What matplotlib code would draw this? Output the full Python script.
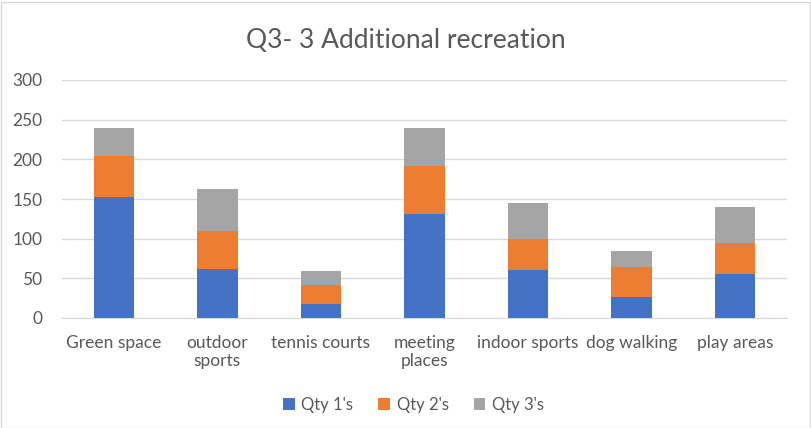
import numpy as np
import matplotlib.pyplot as plt
from matplotlib.patches import Rectangle

categories = ['Green space', 'outdoor\nsports', 'tennis courts', 'meeting\nplaces',
              'indoor sports', 'dog walking', 'play areas']
qty1 = [152, 62, 18, 131, 60, 27, 56]
qty2 = [52, 48, 23, 61, 40, 37, 39]
qty3 = [36, 52, 18, 48, 45, 21, 45]
yticks = [0, 50, 100, 150, 200, 250, 300]

plt.rcParams['font.family'] = ['Lato', 'DejaVu Sans']

fig = plt.figure(figsize=(8.11, 4.28), dpi=100)
ax = fig.add_axes([62 / 811, (428 - 318) / 428, 725 / 811, 238 / 428])

x = np.arange(len(categories))
w = 0.39
b2 = np.array(qty1)
b3 = b2 + np.array(qty2)
ax.bar(x, qty1, w, color='#4472C4', label="Qty 1's", zorder=3)
ax.bar(x, qty2, w, bottom=b2, color='#ED7D31', label="Qty 2's", zorder=3)
ax.bar(x, qty3, w, bottom=b3, color='#A5A5A5', label="Qty 3's", zorder=3)

ax.set_xlim(-0.5, len(categories) - 0.5)
ax.set_ylim(0, 300)
ax.set_yticks(yticks)
ax.set_xticks(x)
ax.set_xticklabels(categories, linespacing=1.2)
ax.grid(axis='y', color='#d9d9d9', linewidth=1, zorder=0)
for s in ['top', 'right', 'left']:
    ax.spines[s].set_visible(False)
ax.spines['bottom'].set_color('#d9d9d9')
ax.tick_params(length=0, labelsize=12.5, labelcolor='#595959')
ax.tick_params(axis='x', pad=12)
ax.tick_params(axis='y', pad=14)

fig.text(0.5, 1 - 40 / 428, 'Q3- 3 Additional recreation', ha='center', va='center',
         fontsize=19, color='#595959')
fig.legend(loc='center', bbox_to_anchor=(0.51, 1 - 405 / 428), ncol=3, frameon=False,
           fontsize=12, labelcolor='#595959', handlelength=0.7, handleheight=0.7,
           columnspacing=1.5, handletextpad=0.4)

fig.patches.append(Rectangle((0.5 / 811, 0.5 / 428), 809 / 811, 426 / 428, transform=fig.transFigure,
                             fill=False, edgecolor='#d9d9d9', linewidth=1))

fig.savefig('out.png', dpi=100)
